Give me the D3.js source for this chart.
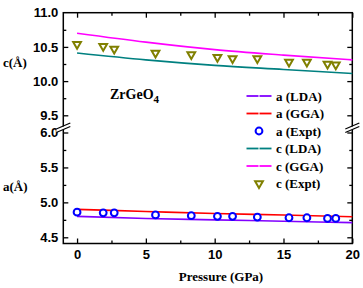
<!DOCTYPE html>
<html>
<head>
<meta charset="utf-8">
<script src="https://cdn.jsdelivr.net/npm/d3@7"></script>
<style>
  body { margin: 0; background: #fff; }
  svg { display: block; }
</style>
</head>
<body>
<div id="chart"></div>
<script>
// Data
const pressureExpt = [0, 1.9, 2.7, 5.7, 8.3, 10.2, 11.3, 13.1, 15.4, 16.7, 18.2, 18.8];
const aExpt = [4.86, 4.85, 4.85, 4.82, 4.81, 4.80, 4.80, 4.79, 4.78, 4.78, 4.77, 4.77];
const cExpt = [10.54, 10.51, 10.47, 10.41, 10.39, 10.35, 10.33, 10.33, 10.28, 10.28, 10.25, 10.24];

const pressureCalc = [0, 5, 10, 15, 20];
const aLDA = [4.80, 4.77, 4.75, 4.73, 4.71];
const aGGA = [4.90, 4.87, 4.84, 4.82, 4.795];
const cLDA = [10.41, 10.31, 10.23, 10.17, 10.11];
const cGGA = [10.70, 10.57, 10.46, 10.38, 10.31];

const xTicks = [0, 5, 10, 15, 20];
const topTicks = [9.5, 10.0, 10.5, 11.0];
const bottomTicks = [4.5, 5.0, 5.5, 6.0];

const width = 363, height = 288;
const plotLeft = 63.3, plotRight = 352.3, plotTop = 12.7, plotBottom = 243.5, breakY = 127.5;

const svg = d3.select('#chart').append('svg')
    .attr('width', width)
    .attr('height', height);

const x = d3.scaleLinear().domain([-1, 20]).range([plotLeft, plotRight]);
const yTop = d3.scaleLinear().domain([9.5, 11.0]).range([115.3, plotTop]);
const yBot = d3.scaleLinear().domain([4.5, 6.0]).range([237.3, 132.5]);

const tickFont = 'Liberation Sans, Arial, sans-serif';
const serifFont = 'Liberation Serif, Times New Roman, serif';

// Axes helper: ticks pointing inward
function styleAxis(g, showLabels) {
    g.select('.domain').remove();
    g.selectAll('.tick line').attr('stroke', '#000').attr('stroke-width', 1.3);
    g.selectAll('.tick text')
        .attr('fill', '#000')
        .style('font-family', tickFont)
        .style('font-weight', 'bold')
        .style('font-size', '13px');
    if (!showLabels) g.selectAll('.tick text').remove();
}

// x axes (bottom labelled, top mirrored)
svg.append('g')
    .attr('transform', `translate(0,${plotBottom})`)
    .call(d3.axisBottom(x).tickValues(xTicks).tickSizeInner(-5).tickSizeOuter(0).tickPadding(6).tickFormat(d3.format('d')))
    .call(g => styleAxis(g, true));
svg.append('g')
    .attr('transform', `translate(0,${plotBottom})`)
    .call(d3.axisBottom(x).tickValues([2.5, 7.5, 12.5, 17.5]).tickSizeInner(-3).tickSizeOuter(0).tickFormat(''))
    .call(g => styleAxis(g, false));
svg.append('g')
    .attr('transform', `translate(0,${plotTop})`)
    .call(d3.axisTop(x).tickValues(xTicks).tickSizeInner(-5).tickSizeOuter(0).tickFormat(''))
    .call(g => styleAxis(g, false));
svg.append('g')
    .attr('transform', `translate(0,${plotTop})`)
    .call(d3.axisTop(x).tickValues([2.5, 7.5, 12.5, 17.5]).tickSizeInner(-3).tickSizeOuter(0).tickFormat(''))
    .call(g => styleAxis(g, false));

// y axes, top panel (c) and bottom panel (a)
const panels = [
    { scale: yTop, major: topTicks.filter(d => d < 11), minor: [9.75, 10.25, 10.75] },
    { scale: yBot, major: bottomTicks, minor: [4.75, 5.25, 5.75] }
];
panels.forEach(p => {
    svg.append('g')
        .attr('transform', `translate(${plotLeft},0)`)
        .call(d3.axisLeft(p.scale).tickValues(p.major).tickSizeInner(-5).tickSizeOuter(0).tickPadding(5).tickFormat(d3.format('.1f')))
        .call(g => styleAxis(g, true));
    svg.append('g')
        .attr('transform', `translate(${plotLeft},0)`)
        .call(d3.axisLeft(p.scale).tickValues(p.minor).tickSizeInner(-3).tickSizeOuter(0).tickFormat(''))
        .call(g => styleAxis(g, false));
    svg.append('g')
        .attr('transform', `translate(${plotRight},0)`)
        .call(d3.axisRight(p.scale).tickValues(p.major).tickSizeInner(-5).tickSizeOuter(0).tickFormat(''))
        .call(g => styleAxis(g, false));
    svg.append('g')
        .attr('transform', `translate(${plotRight},0)`)
        .call(d3.axisRight(p.scale).tickValues(p.minor).tickSizeInner(-3).tickSizeOuter(0).tickFormat(''))
        .call(g => styleAxis(g, false));
});
// 11.0 label sits on the top edge
svg.append('text')
    .attr('x', plotLeft - 5).attr('y', yTop(11.0)).attr('dy', '0.32em')
    .attr('text-anchor', 'end')
    .style('font-family', tickFont).style('font-weight', 'bold').style('font-size', '13px')
    .text('11.0');

// frame
svg.append('rect')
    .attr('x', plotLeft).attr('y', plotTop)
    .attr('width', plotRight - plotLeft).attr('height', plotBottom - plotTop)
    .attr('fill', 'none').attr('stroke', '#000').attr('stroke-width', 1.5);

// axis break marks on both sides
[plotLeft, plotRight].forEach(cx => {
    const g = svg.append('g').attr('transform', `translate(${cx},${breakY})`);
    g.append('polygon')
        .attr('points', '-7,2 7,-4 7,-1 -7,5')
        .attr('fill', '#fff');
    g.append('line').attr('x1', -7).attr('y1', 1.5).attr('x2', 7).attr('y2', -4.5)
        .attr('stroke', '#000').attr('stroke-width', 1.2);
    g.append('line').attr('x1', -7).attr('y1', 5).attr('x2', 7).attr('y2', -1)
        .attr('stroke', '#000').attr('stroke-width', 1.2);
});

// lines
const series = [
    { key: 'a (LDA)', vals: aLDA, y: yBot, color: '#8000ff' },
    { key: 'a (GGA)', vals: aGGA, y: yBot, color: '#ff0000' },
    { key: 'c (LDA)', vals: cLDA, y: yTop, color: '#008080' },
    { key: 'c (GGA)', vals: cGGA, y: yTop, color: '#ff00ff' }
];
series.forEach(s => {
    const line = d3.line()
        .x((d, i) => x(pressureCalc[i]))
        .y(d => s.y(d))
        .curve(d3.curveMonotoneX);
    svg.append('path')
        .datum(s.vals)
        .attr('d', line)
        .attr('fill', 'none')
        .attr('stroke', s.color)
        .attr('stroke-width', 1.6);
});

// experimental points
const triangle = d3.symbol().type(d3.symbolTriangle).size(26);
svg.append('g').selectAll('path')
    .data(cExpt)
    .enter().append('path')
    .attr('d', triangle)
    .attr('transform', (d, i) => `translate(${x(pressureExpt[i])},${yTop(d)}) rotate(180)`)
    .attr('fill', '#fff')
    .attr('stroke', '#808000')
    .attr('stroke-width', 2);

svg.append('g').selectAll('circle')
    .data(aExpt)
    .enter().append('circle')
    .attr('cx', (d, i) => x(pressureExpt[i]))
    .attr('cy', d => yBot(d))
    .attr('r', 3.4)
    .attr('fill', '#fff')
    .attr('stroke', '#0000ff')
    .attr('stroke-width', 2);

// compound label
const label = svg.append('text')
    .attr('x', 110).attr('y', 99)
    .style('font-family', serifFont).style('font-weight', 'bold').style('font-size', '14px');
label.append('tspan').text('ZrGeO');
label.append('tspan').attr('dy', 4).style('font-size', '11px').text('4');

// legend
const legendItems = [
    { key: 'a (LDA)', color: '#8000ff', type: 'line' },
    { key: 'a (GGA)', color: '#ff0000', type: 'line' },
    { key: 'a (Expt)', color: '#0000ff', type: 'circle' },
    { key: 'c (LDA)', color: '#008080', type: 'line' },
    { key: 'c (GGA)', color: '#ff00ff', type: 'line' },
    { key: 'c (Expt)', color: '#808000', type: 'triangle' }
];
const legend = svg.append('g');
legendItems.forEach((d, i) => {
    const ly = 96 + i * 17.5;
    if (d.type === 'line') {
        legend.append('line').attr('x1', 246.5).attr('x2', 258.5).attr('y1', ly).attr('y2', ly)
            .attr('stroke', d.color).attr('stroke-width', 1.8);
        legend.append('line').attr('x1', 259.5).attr('x2', 271.5).attr('y1', ly).attr('y2', ly)
            .attr('stroke', d.color).attr('stroke-width', 1.8);
    } else if (d.type === 'circle') {
        legend.append('circle').attr('cx', 259).attr('cy', ly).attr('r', 3.4)
            .attr('fill', '#fff').attr('stroke', d.color).attr('stroke-width', 2);
    } else {
        legend.append('path').attr('d', triangle)
            .attr('transform', `translate(259,${ly}) rotate(180)`)
            .attr('fill', '#fff').attr('stroke', d.color).attr('stroke-width', 2);
    }
    legend.append('text')
        .attr('x', 276).attr('y', ly).attr('dy', '0.35em')
        .style('font-family', serifFont).style('font-weight', 'bold').style('font-size', '13px')
        .text(d.key);
});

// axis titles
svg.append('text')
    .attr('x', 3).attr('y', 62).attr('dy', '0.35em')
    .style('font-family', serifFont).style('font-weight', 'bold').style('font-size', '13px')
    .text('c(Å)');
svg.append('text')
    .attr('x', 3).attr('y', 186).attr('dy', '0.35em')
    .style('font-family', serifFont).style('font-weight', 'bold').style('font-size', '13px')
    .text('a(Å)');
svg.append('text')
    .attr('x', 221).attr('y', 281)
    .attr('text-anchor', 'middle')
    .style('font-family', serifFont).style('font-weight', 'bold').style('font-size', '13px')
    .text('Pressure (GPa)');
</script>
</body>
</html>
